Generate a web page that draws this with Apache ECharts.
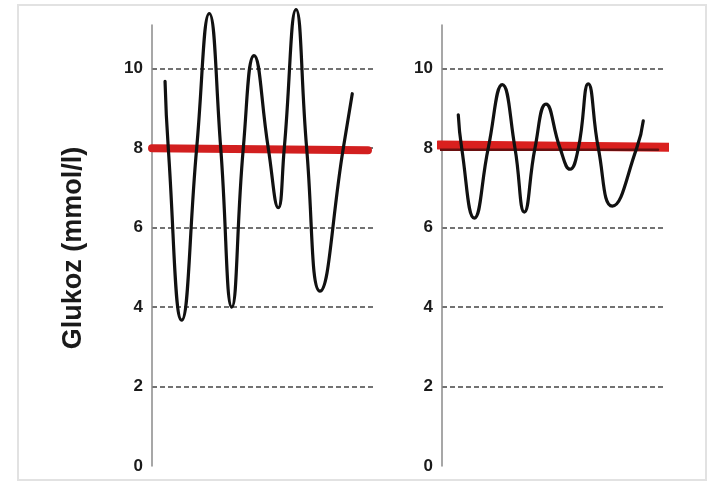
<!DOCTYPE html>
<html>
<head>
<meta charset="utf-8">
<script src="https://cdn.jsdelivr.net/npm/echarts@6/dist/echarts.min.js"></script>
<style>
    html, body { margin: 0; padding: 0; background: #fff; }
    #chart { width: 717px; height: 482px; }
</style>
</head>
<body>
<div id="chart"></div>
<script>
// y axis ticks shown on both panels
const yTickLabels = ['0', '2', '4', '6', '8', '10']

// left panel: large glucose swings (hours, mmol/l)
const leftHours = [1.41, 1.76, 3.21, 4.83, 6.19, 7.43, 8.62, 9.87, 11.03, 12.57, 13.65, 14.30, 15.57, 16.72, 18.16, 20.68, 21.65]
const leftGlucose = [9.68, 8.0, 3.67, 8.0, 11.39, 8.0, 4.0, 8.0, 10.33, 8.0, 6.5, 8.0, 11.49, 8.0, 4.4, 8.0, 9.37]

// right panel: small glucose swings
const rightHours = [1.76, 2.13, 3.49, 5.00, 6.52, 7.89, 8.90, 10.05, 11.24, 12.76, 13.84, 14.74, 15.81, 16.90, 18.41, 21.05, 21.76]
const rightGlucose = [8.84, 8.0, 6.24, 8.0, 9.6, 8.0, 6.39, 8.0, 9.11, 8.0, 7.47, 8.0, 9.62, 8.0, 6.54, 8.0, 8.69]

// mean glucose (red bars)
const leftMeanHours = [0, 23.35]
const leftMeanGlucose = [8.0, 7.95]
const rightMeanHours = [-0.4, 26.0]
const rightMeanGlucose = [8.08, 8.02]
const rightMeanShadeHours = [-0.4, 23.35]
const rightMeanShadeGlucose = [7.96, 7.96]

const zip = (xs, ys) => xs.map((x, i) => [x, ys[i]])

const chart = echarts.init(document.getElementById('chart'), null, { renderer: 'canvas' })

const yAxisBase = {
    type: 'value',
    min: 0,
    max: 11.1,
    interval: 2,
    axisLine: { show: true, lineStyle: { color: '#8a8a8a', width: 1.5 } },
    axisTick: { show: false },
    axisLabel: {
        margin: 9,
        color: '#1a1a1a',
        fontSize: 17,
        fontWeight: 'bold',
        fontFamily: 'Liberation Sans, Arial, sans-serif',
        formatter: value => (yTickLabels.includes(String(value)) ? String(value) : ''),
    },
    splitLine: {
        show: true,
        showMinLine: false,
        showMaxLine: false,
        lineStyle: { color: '#444', width: 1.5, type: [5, 3] },
    },
}

const xAxisBase = {
    type: 'value',
    min: 0,
    max: 24,
    show: false,
}

const curveStyle = {
    type: 'line',
    smooth: 0.5,
    showSymbol: false,
    clip: false,
    z: 5,
    lineStyle: { color: '#111', width: 3.2, cap: 'round', join: 'round' },
}

const meanStyle = (width, color) => ({
    type: 'line',
    showSymbol: false,
    clip: false,
    z: 3,
    lineStyle: { color: color, width: width, cap: 'round' },
})

chart.setOption({
    animation: false,
    backgroundColor: '#fff',
    grid: [
        { left: 152, top: 25, width: 222, height: 441 },
        { left: 442, top: 25, width: 222, height: 441 },
    ],
    xAxis: [
        { ...xAxisBase, gridIndex: 0 },
        { ...xAxisBase, gridIndex: 1 },
    ],
    yAxis: [
        { ...yAxisBase, gridIndex: 0 },
        { ...yAxisBase, gridIndex: 1 },
    ],
    graphic: [
        {
            type: 'rect',
            shape: { x: 18, y: 5, width: 688, height: 475 },
            style: { fill: 'none', stroke: '#e2e2e2', lineWidth: 2 },
            silent: true,
            z: -1,
        },
        {
            type: 'text',
            x: 74,
            y: 248,
            rotation: Math.PI / 2,
            style: {
                text: 'Glukoz (mmol/l)',
                fill: '#1a1a1a',
                font: 'bold 27px "Liberation Sans", Arial, sans-serif',
                textAlign: 'center',
                textVerticalAlign: 'middle',
            },
        },
    ],
    series: [
        {
            ...meanStyle(8, '#d21f1f'),
            xAxisIndex: 0,
            yAxisIndex: 0,
            data: zip(leftMeanHours, leftMeanGlucose),
        },
        {
            ...curveStyle,
            xAxisIndex: 0,
            yAxisIndex: 0,
            data: zip(leftHours, leftGlucose),
        },
        {
            ...meanStyle(9, '#d9201e'),
            xAxisIndex: 1,
            yAxisIndex: 1,
            data: zip(rightMeanHours, rightMeanGlucose),
        },
        {
            ...meanStyle(2.5, '#6a1010'),
            xAxisIndex: 1,
            yAxisIndex: 1,
            z: 4,
            data: zip(rightMeanShadeHours, rightMeanShadeGlucose),
        },
        {
            ...curveStyle,
            xAxisIndex: 1,
            yAxisIndex: 1,
            data: zip(rightHours, rightGlucose),
        },
    ],
})
</script>
</body>
</html>
